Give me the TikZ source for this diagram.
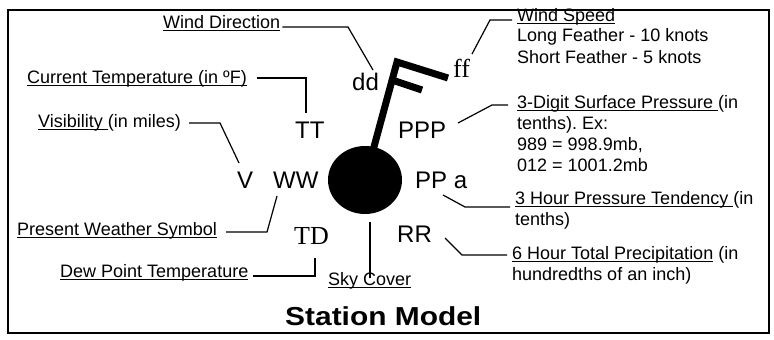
\documentclass[tikz,border=0pt]{standalone}
\usepackage{fontspec}
\usetikzlibrary{shapes.geometric}
\setmainfont{Liberation Sans}
\newfontfamily\serifface{Liberation Serif}
\newlength\ulw
\newcommand\myul[1]{\settowidth\ulw{#1}\rlap{\rule[-2.6pt]{\ulw}{1.1pt}}#1}
\frenchspacing
\begin{document}
\begin{tikzpicture}[x=1pt,y=-1pt,
  lbl/.style={inner sep=0pt, anchor=base west, align=left, font=\fontsize{18}{21}\selectfont},
  code/.style={inner sep=0pt, anchor=base west, font=\fontsize{24}{24}\selectfont},
  scode/.style={inner sep=0pt, anchor=base west, font=\serifface\fontsize{26}{26}\selectfont},
  lead/.style={line width=1.2pt, line join=miter},
  barb/.style={line width=7pt, line join=miter}]
\useasboundingbox (0,0) rectangle (774,340);
\draw[line width=1.5pt] (8,10) rectangle (769,333);

% station circle and wind barb
\node (stn) [ellipse, fill, minimum width=74pt, minimum height=68pt, inner sep=0pt] at (365,180) {};
\coordinate (stafftop) at (397,62);
\coordinate (longend) at (448,78);
\coordinate (shortstart) at (392,80);
\coordinate (shortend) at (422,90);
\draw[barb] (longend) -- (stafftop) -- (stn.center);
\draw[barb] (shortstart) -- (shortend);

% codes
\node[code] (dd) at (352,90) {dd};
\node[scode] (ff) at (453,77) {ff};
\node[code] (TT) at (295,138) {TT};
\node[code] (V) at (237,188) {V};
\node[code] (WW) at (273,188) {WW};
\node[scode] (TD) at (294,244) {TD};
\node[code] (PPP) at (398,138) {PPP};
\node[code] (PPa) at (415,188) {PP a};
\node[code] (RR) at (397,242) {RR};

% labels (multi-line nodes are placed by the baseline of their last line)
\node[lbl] (wdir) at (163,28) {\myul{Wind Direction}};
\node[lbl] (wspd) at (517,63) {\myul{Wind Speed}\\Long Feather - 10 knots\\Short Feather - 5 knots};
\node[lbl] (ctemp) at (27,83) {\myul{Current Temperature (in ºF)}};
\node[lbl] (vis) at (38,127) {\myul{Visibility\ }(in miles)};
\node[lbl] (pws) at (17,235) {\myul{Present Weather Symbol}};
\node[lbl] (dew) at (60,277) {\myul{Dew Point Temperature}};
\node[lbl] (sky) at (328,285) {\myul{Sky Cover}};
\node[lbl] (sfc) at (517,171) {\myul{3-Digit Surface Pressure\ }(in\\tenths). Ex:\\989 = 998.9mb,\\012 = 1001.2mb};
\node[lbl] (tend) at (515,225) {\myul{3 Hour Pressure Tendency\ }(in\\tenths)};
\node[lbl] (prec) at (512,280) {\myul{6 Hour Total Precipitation} (in\\hundredths of an inch)};
\node[inner sep=0pt, anchor=base west, font=\bfseries\fontsize{26}{26}\selectfont, xscale=1.15] (title) at (285,325) {Station Model};

% leader lines
\coordinate (a1) at (348,27); \coordinate (a2) at (373,70);
\draw[lead] ([xshift=2pt,yshift=1pt]wdir.base east) -- (a1) -- (a2);
\coordinate (b0) at (512,20); \coordinate (b1) at (490,20); \coordinate (b2) at (472,54);
\draw[lead] (b0) -- (b1) -- (b2);
\coordinate (c1) at (306,78); \coordinate (c2) at (306,113);
\draw[lead] ([xshift=10pt,yshift=5pt]ctemp.base east) -- (c1) -- (c2);
\coordinate (d1) at (220,123); \coordinate (d2) at (239,163);
\draw[lead] ([xshift=8pt,yshift=4pt]vis.base east) -- (d1) -- (d2);
\coordinate (e1) at (267,232); \coordinate (e2) at (277,196);
\draw[lead] ([xshift=9pt,yshift=3pt]pws.base east) -- (e1) -- (e2);
\coordinate (f1) at (315,276); \coordinate (f2) at (315,258);
\draw[lead] ([xshift=5pt,yshift=1pt]dew.base east) -- (f1) -- (f2);
\coordinate (g1) at (370,222); \coordinate (g2) at (370,278);
\draw[lead] (g1) -- (g2);
\coordinate (h0) at (458,123); \coordinate (h1) at (492,105); \coordinate (h2) at (508,105);
\draw[lead] (h0) -- (h1) -- (h2);
\coordinate (i0) at (443,195); \coordinate (i1) at (465,207); \coordinate (i2) at (510,207);
\draw[lead] (i0) -- (i1) -- (i2);
\coordinate (j0) at (445,238); \coordinate (j1) at (462,255); \coordinate (j2) at (507,255);
\draw[lead] (j0) -- (j1) -- (j2);
\end{tikzpicture}
\end{document}
